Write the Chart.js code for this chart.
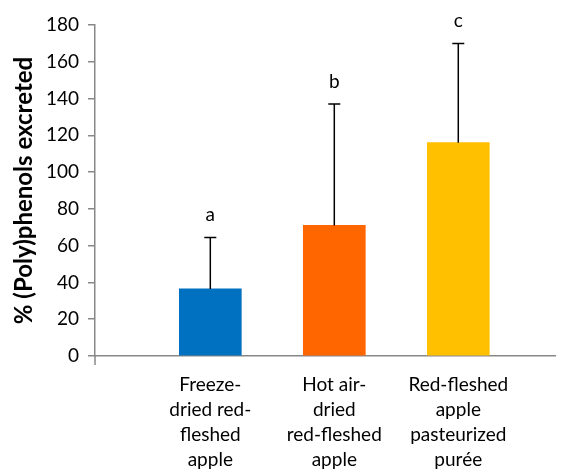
<!DOCTYPE html>
<html lang="en">
<head>
    <meta charset="UTF-8">
    <title>Polyphenols excreted</title>
    <script src="https://cdn.jsdelivr.net/npm/chart.js"></script>
    <style>
        body { margin: 0; background: white; }
        .chart-container { width: 564px; height: 472px; }
    </style>
</head>
<body>
    <div class="chart-container">
        <canvas id="polyChart"></canvas>
    </div>
    <script>
        // categories (multi-line labels), bar means, upper error, significance letters
        const categories = [
            ['Freeze-', 'dried red-', 'fleshed', 'apple'],
            ['Hot air-', 'dried', 'red-fleshed', 'apple'],
            ['Red-fleshed', 'apple', 'pasteurized', 'purée']
        ];
        const means = [36.5, 71, 116];
        const errors = [28, 66, 54];
        const letters = ['a', 'b', 'c'];
        const barColors = ['#0070C0', '#FF6600', '#FFC000'];
        const yTicks = [0, 20, 40, 60, 80, 100, 120, 140, 160, 180];

        const font = 'Lato, "DejaVu Sans", sans-serif';

        // draws upper error bars, letters and the small extension of the y axis
        const errorBars = {
            id: 'errorBars',
            afterDatasetsDraw(chart) {
                const c = chart.ctx;
                const xs = chart.scales.x, ys = chart.scales.y;
                c.save();
                c.strokeStyle = '#000';
                c.lineWidth = 1.5;
                means.forEach((m, i) => {
                    const x = xs.getPixelForValue(i + 1);
                    const y0 = ys.getPixelForValue(m);
                    const y1 = ys.getPixelForValue(m + errors[i]);
                    c.beginPath();
                    c.moveTo(x, y0);
                    c.lineTo(x, y1);
                    c.moveTo(x - 6, y1);
                    c.lineTo(x + 6, y1);
                    c.stroke();
                    c.fillStyle = '#000';
                    c.font = '19px ' + font;
                    c.textAlign = 'center';
                    c.textBaseline = 'alphabetic';
                    c.fillText(letters[i], x, y1 - 16);
                });
                // y axis runs a little below the x axis
                c.strokeStyle = '#888';
                c.beginPath();
                c.moveTo(chart.chartArea.left, chart.chartArea.bottom);
                c.lineTo(chart.chartArea.left, chart.chartArea.bottom + 9);
                c.stroke();
                c.restore();
            }
        };

        const ctx = document.getElementById('polyChart').getContext('2d');
        new Chart(ctx, {
            type: 'bar',
            data: {
                datasets: [{
                    data: means.map((m, i) => ({ x: i + 1, y: m })),
                    backgroundColor: barColors,
                    barThickness: 62
                }]
            },
            options: {
                responsive: true,
                maintainAspectRatio: false,
                animation: false,
                layout: { padding: { top: 25, right: 9, left: 0, bottom: 0 } },
                plugins: {
                    legend: { display: false },
                    tooltip: { enabled: false }
                },
                scales: {
                    x: {
                        type: 'linear',
                        offset: false,
                        min: 0.07,
                        max: 3.78,
                        afterBuildTicks: axis => {
                            axis.ticks = categories.map((c, i) => ({ value: i + 1 }));
                        },
                        afterFit: axis => { axis.height = 116; },
                        grid: { display: false },
                        border: { color: '#888', width: 1.5 },
                        ticks: {
                            color: '#000',
                            font: { family: font, size: 19, lineHeight: 1.3 },
                            padding: 9,
                            maxRotation: 0,
                            autoSkip: false,
                            callback: v => categories[v - 1] || ''
                        }
                    },
                    y: {
                        min: 0,
                        max: 180,
                        afterBuildTicks: axis => {
                            axis.ticks = yTicks.map(v => ({ value: v }));
                        },
                        afterFit: axis => { axis.width = 95; },
                        grid: { drawOnChartArea: false, color: '#888', tickLength: 7, lineWidth: 1.5 },
                        border: { color: '#888', width: 1.5 },
                        ticks: {
                            color: '#000',
                            font: { family: font, size: 19 },
                            padding: 9
                        },
                        title: {
                            display: true,
                            text: '% (Poly)phenols excreted',
                            color: '#000',
                            font: { family: font, size: 24, weight: 'bold' },
                            padding: { top: 10, bottom: 0 }
                        }
                    }
                }
            },
            plugins: [errorBars]
        });
    </script>
</body>
</html>
